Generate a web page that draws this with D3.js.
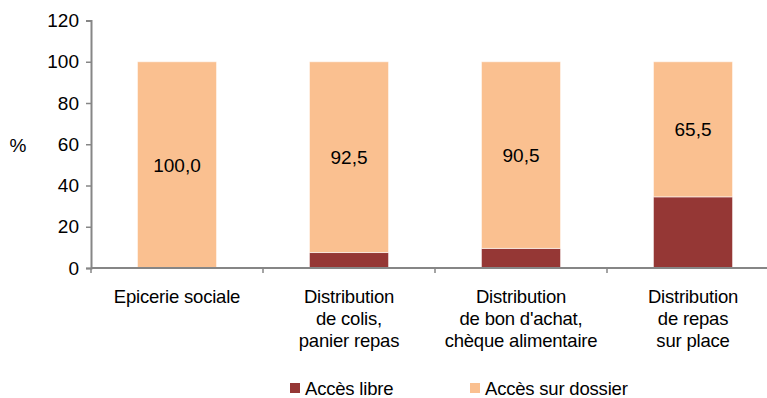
<!DOCTYPE html>
<html>
<head>
<meta charset="utf-8">
<script src="https://cdn.jsdelivr.net/npm/d3@7"></script>
<style>
  html, body { margin: 0; padding: 0; background: #fff; }
  svg { display: block; font-family: Arial, "Liberation Sans", sans-serif; }
</style>
</head>
<body>
<svg id="chart" width="767" height="398"></svg>
<script>
// Categories (each label split into its display lines)
const categories = ["epicerie", "colis", "bon", "repas"];
const categoryLines = [
  ["Epicerie sociale"],
  ["Distribution", "de colis,", "panier repas"],
  ["Distribution", "de bon d'achat,", "chèque alimentaire"],
  ["Distribution", "de repas", "sur place"]
];
// Series values (%)
const accesLibre = [0, 7.5, 9.5, 34.5];
const accesDossier = [100.0, 92.5, 90.5, 65.5];
const seriesNames = ["Accès libre", "Accès sur dossier"];
const yTicks = [0, 20, 40, 60, 80, 100, 120];

const colors = ["#953735", "#FAC090"];

const svg = d3.select("#chart");
const plotLeft = 91, plotRight = 779, plotTop = 20.5, plotBottom = 268;

const x = d3.scaleBand().domain(categories).range([plotLeft, plotRight])
  .paddingInner(0.54).paddingOuter(0.27);
const y = d3.scaleLinear().domain([0, 120]).range([plotBottom, plotTop]);

// Stack the two series
const rows = categories.map((c, i) => ({ cat: c, libre: accesLibre[i], dossier: accesDossier[i] }));
const stack = d3.stack().keys(["libre", "dossier"])(rows);

const fmt = v => v.toFixed(1).replace(".", ",");

stack.forEach((layer, li) => {
  const g = svg.append("g");
  g.selectAll("rect").data(layer).join("rect")
    .attr("x", d => x(d.data.cat))
    .attr("width", x.bandwidth())
    .attr("y", d => y(d[1]))
    .attr("height", d => Math.max(0, y(d[0]) - y(d[1])))
    .attr("fill", colors[li])
    .attr("stroke", "#fff")
    .attr("stroke-opacity", 0.55)
    .attr("stroke-width", 1);
});

// Value labels on the "sur dossier" segments
svg.append("g").selectAll("text").data(stack[1]).join("text")
  .attr("x", d => x(d.data.cat) + x.bandwidth() / 2)
  .attr("y", d => (y(d[0]) + y(d[1])) / 2)
  .attr("dy", "0.36em")
  .attr("text-anchor", "middle")
  .attr("font-size", 19)
  .attr("fill", "#000")
  .text(d => fmt(d.data.dossier));

// Y axis
const yAxis = svg.append("g").attr("transform", `translate(${plotLeft},0)`)
  .call(d3.axisLeft(y).tickValues(yTicks).tickSize(5).tickPadding(7).tickFormat(d3.format("d")));
yAxis.select(".domain").attr("stroke", "#868686").attr("stroke-width", 2);
yAxis.selectAll(".tick line").attr("stroke", "#868686").attr("stroke-width", 1.5);
yAxis.selectAll(".tick text").attr("font-size", 19).attr("fill", "#000")
  .attr("font-family", "Arial, 'Liberation Sans', sans-serif");

// X axis baseline with boundary ticks
const xg = svg.append("g");
xg.append("line").attr("x1", plotLeft).attr("x2", plotRight)
  .attr("y1", plotBottom).attr("y2", plotBottom)
  .attr("stroke", "#868686").attr("stroke-width", 2);
const bounds = categories.map(c => x(c) - x.step() * x.paddingInner() / 2);
bounds[0] = plotLeft;
bounds.push(plotRight);
xg.selectAll("line.b").data(bounds).join("line").attr("class", "b")
  .attr("x1", d => d).attr("x2", d => d)
  .attr("y1", plotBottom).attr("y2", plotBottom + 5)
  .attr("stroke", "#868686").attr("stroke-width", 1.5);

// Category labels
const cl = svg.append("g");
categories.forEach((c, i) => {
  const t = cl.append("text")
    .attr("text-anchor", "middle")
    .attr("font-size", 18.5)
    .attr("fill", "#000")
    .attr("letter-spacing", -0.2);
  categoryLines[i].forEach((line, j) => {
    t.append("tspan")
      .attr("x", x(c) + x.bandwidth() / 2)
      .attr("y", 303 + j * 22)
      .text(line);
  });
});

// Y axis title
svg.append("text").attr("x", 18).attr("y", 145).attr("dy", "0.36em")
  .attr("text-anchor", "middle").attr("font-size", 19).text("%");

// Legend
const legendX = [290, 470];
const lg = svg.append("g");
seriesNames.forEach((name, i) => {
  lg.append("rect").attr("x", legendX[i]).attr("y", 383)
    .attr("width", 10).attr("height", 10).attr("fill", colors[i]);
  lg.append("text").attr("x", legendX[i] + 15).attr("y", 395)
    .attr("font-size", 18.5).attr("letter-spacing", -0.2).attr("fill", "#000")
    .text(name);
});
</script>
</body>
</html>
